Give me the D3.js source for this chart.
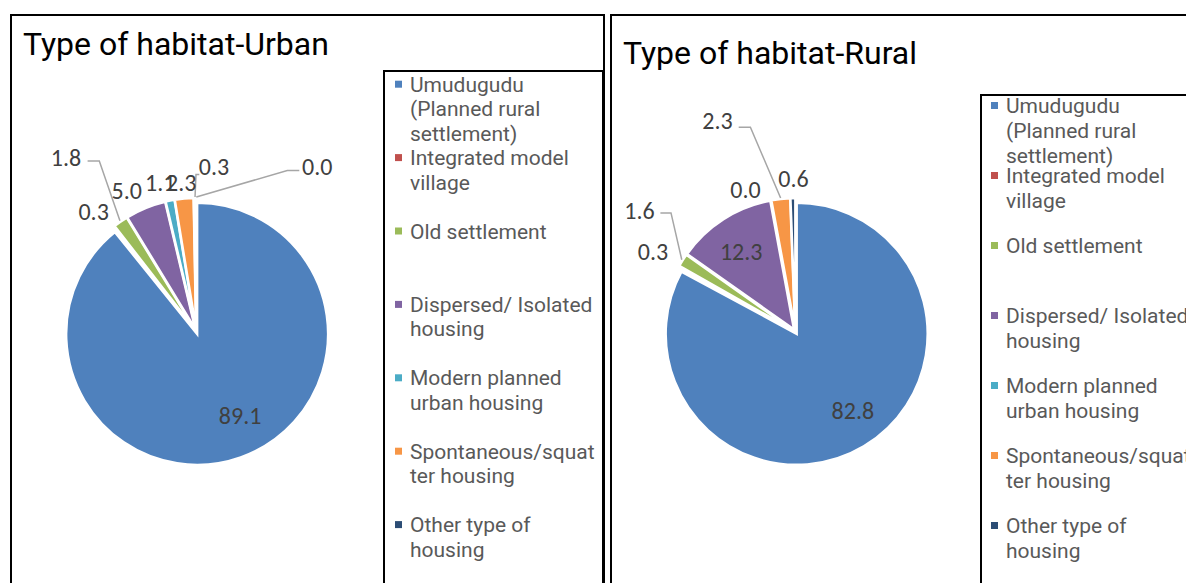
<!DOCTYPE html>
<html>
<head>
<meta charset="utf-8">
<script src="https://cdn.jsdelivr.net/npm/d3@7"></script>
<style>
  html, body { margin: 0; padding: 0; background: #fff; }
  svg { display: block; }
</style>
</head>
<body>
<svg id="chart" width="1186" height="583"></svg>
<script>
// legend entries, already wrapped the way the source chart wraps them
const categories = [
    ["Umudugudu", "(Planned rural", "settlement)"],
    ["Integrated model", "village"],
    ["Old settlement"],
    ["Dispersed/ Isolated", "housing"],
    ["Modern planned", "urban housing"],
    ["Spontaneous/squat", "ter housing"],
    ["Other type of", "housing"]
];

// share of households (%) per type of habitat
const urbanValues = [89.1, 0.3, 1.8, 5.0, 1.1, 2.3, 0.3, 0.0];
const ruralValues = [82.8, 0.3, 1.6, 12.3, 0.0, 2.3, 0.6];

const colors = ["#4F81BD", "#C0504D", "#9BBB59", "#8064A2", "#4BACC6", "#F79646", "#2C4D75", "#772C2A"];

// where Excel put the data labels (offset from pie centre) and their leader elbows
const urbanLabelLayout = [
    {dx: 43.8, dy: 84.3},
    {dx: -102.7, dy: -120},
    {dx: -130.3, dy: -173.7, leader: [[-108.7, -170.4], [-97, -170.4]]},
    {dx: -69.5, dy: -140.7},
    {dx: -36, dy: -148.7},
    {dx: -15, dy: -148.7},
    {dx: 17.7, dy: -164.7, leader: [[3, -157], [-0.3, -157]]},
    {dx: 121, dy: -164.7, leader: [[103, -161], [91, -161]]}
];
const ruralLabelLayout = [
    {dx: 57.5, dy: 79},
    {dx: -142.4, dy: -80.1},
    {dx: -155.9, dy: -121.8, leader: [[-135, -118.8], [-124.4, -118.8]]},
    {dx: -54.2, dy: -80.1},
    {dx: -50, dy: -142.5},
    {dx: -78, dy: -211.3, leader: [[-56.7, -204.5], [-45, -204.5]]},
    {dx: -2, dy: -153.5}
];

const svg = d3.select("#chart");
svg.append("rect").attr("width", 1186).attr("height", 583).attr("fill", "#fff");

const radius = 131,
    explode = 2.5;

const pie = d3.pie().sort(null).value((d)=>d);
const arc = d3.arc().innerRadius(0).outerRadius(radius);

const labelFont = "Carlito, Calibri, Lato, sans-serif";

function drawPanel(opts) {
    let g = svg.append("g");

    // frame
    g.append("rect")
        .attr("x", opts.frame.x).attr("y", opts.frame.y)
        .attr("width", opts.frame.w).attr("height", 700)
        .attr("fill", "#fff")
        .attr("stroke", "#000")
        .attr("stroke-width", 2);

    g.append("text")
        .attr("x", opts.title.x).attr("y", opts.title.y)
        .attr("font-family", "Roboto, sans-serif")
        .attr("font-size", 32)
        .attr("fill", "#000")
        .text(opts.title.text);

    // pie
    let arcs = pie(opts.values);
    let pieG = g.append("g")
        .attr("transform", `translate(${opts.cx},${opts.cy})`);

    let shift = (d)=>{
        let mid = (d.startAngle + d.endAngle) / 2;
        return [Math.sin(mid) * explode, -Math.cos(mid) * explode];
    };

    pieG.selectAll("path.slice")
        .data(arcs)
        .enter().append("path")
        .attr("class", "slice")
        .attr("d", arc)
        .attr("transform", (d)=>`translate(${shift(d)})`)
        .attr("fill", (d, i)=>colors[i])
        .attr("stroke", "#fff")
        .attr("stroke-width", 2.5);

    // leader lines
    let withLeader = arcs.filter((d, i)=>opts.labels[i].leader);
    pieG.selectAll("polyline.leader")
        .data(withLeader)
        .enter().append("polyline")
        .attr("class", "leader")
        .attr("fill", "none")
        .attr("stroke", "#A6A6A6")
        .attr("stroke-width", 1.5)
        .attr("points", (d)=>{
            let lay = opts.labels[d.index];
            let mid = (d.startAngle + d.endAngle) / 2;
            let s = shift(d);
            let end = [Math.sin(mid) * (radius + 1) + s[0], -Math.cos(mid) * (radius + 1) + s[1]];
            return [lay.leader[0], lay.leader[1], end].map((p)=>p.join(",")).join(" ");
        });

    // data labels
    pieG.selectAll("text.value")
        .data(arcs)
        .enter().append("text")
        .attr("class", "value")
        .attr("x", (d)=>opts.labels[d.index].dx)
        .attr("y", (d)=>opts.labels[d.index].dy)
        .attr("dy", "0.36em")
        .attr("text-anchor", "middle")
        .attr("font-family", labelFont)
        .attr("font-size", 24)
        .attr("fill", "#404040")
        .text((d)=>d3.format(".1f")(d.data));

    // legend
    let clipId = "clip-" + opts.id;
    g.append("clipPath").attr("id", clipId)
        .append("rect")
        .attr("x", opts.legend.x).attr("y", opts.legend.y)
        .attr("width", opts.legend.w).attr("height", 700);

    let lg = g.append("g").attr("clip-path", `url(#${clipId})`);
    let items = lg.selectAll("g.item")
        .data(categories)
        .enter().append("g")
        .attr("class", "item")
        .attr("transform", (d, i)=>`translate(${opts.legend.x},${opts.legend.first + i * opts.legend.step})`);

    items.append("rect")
        .attr("x", opts.legend.sw).attr("y", -11)
        .attr("width", 7).attr("height", 7)
        .attr("fill", (d, i)=>colors[i]);

    items.append("text")
        .attr("x", opts.legend.tx)
        .attr("font-family", "Roboto, sans-serif")
        .attr("font-size", 21)
        .attr("fill", "#595959")
        .selectAll("tspan")
        .data((d)=>d)
        .enter().append("tspan")
        .attr("x", opts.legend.tx)
        .attr("y", (d, j)=>j * opts.legend.line)
        .text((d)=>d);

    g.append("rect")
        .attr("x", opts.legend.x).attr("y", opts.legend.y)
        .attr("width", opts.legend.w).attr("height", 700)
        .attr("fill", "none")
        .attr("stroke", "#000")
        .attr("stroke-width", 2);
}

drawPanel({
    id: "urban",
    frame: {x: 11, y: 15, w: 593},
    title: {x: 23, y: 54.5, text: "Type of habitat-Urban"},
    cx: 196.3, cy: 331.5,
    values: urbanValues,
    labels: urbanLabelLayout,
    legend: {x: 384, y: 71, w: 219, first: 91.7, step: 73.4, line: 24.6, sw: 11, tx: 26}
});

drawPanel({
    id: "rural",
    frame: {x: 611, y: 15, w: 700},
    title: {x: 623, y: 63.5, text: "Type of habitat-Rural"},
    cx: 795.4, cy: 331.7,
    values: ruralValues,
    labels: ruralLabelLayout,
    legend: {x: 981, y: 95, w: 300, first: 113, step: 70, line: 25, sw: 10, tx: 25}
});
</script>
</body>
</html>
